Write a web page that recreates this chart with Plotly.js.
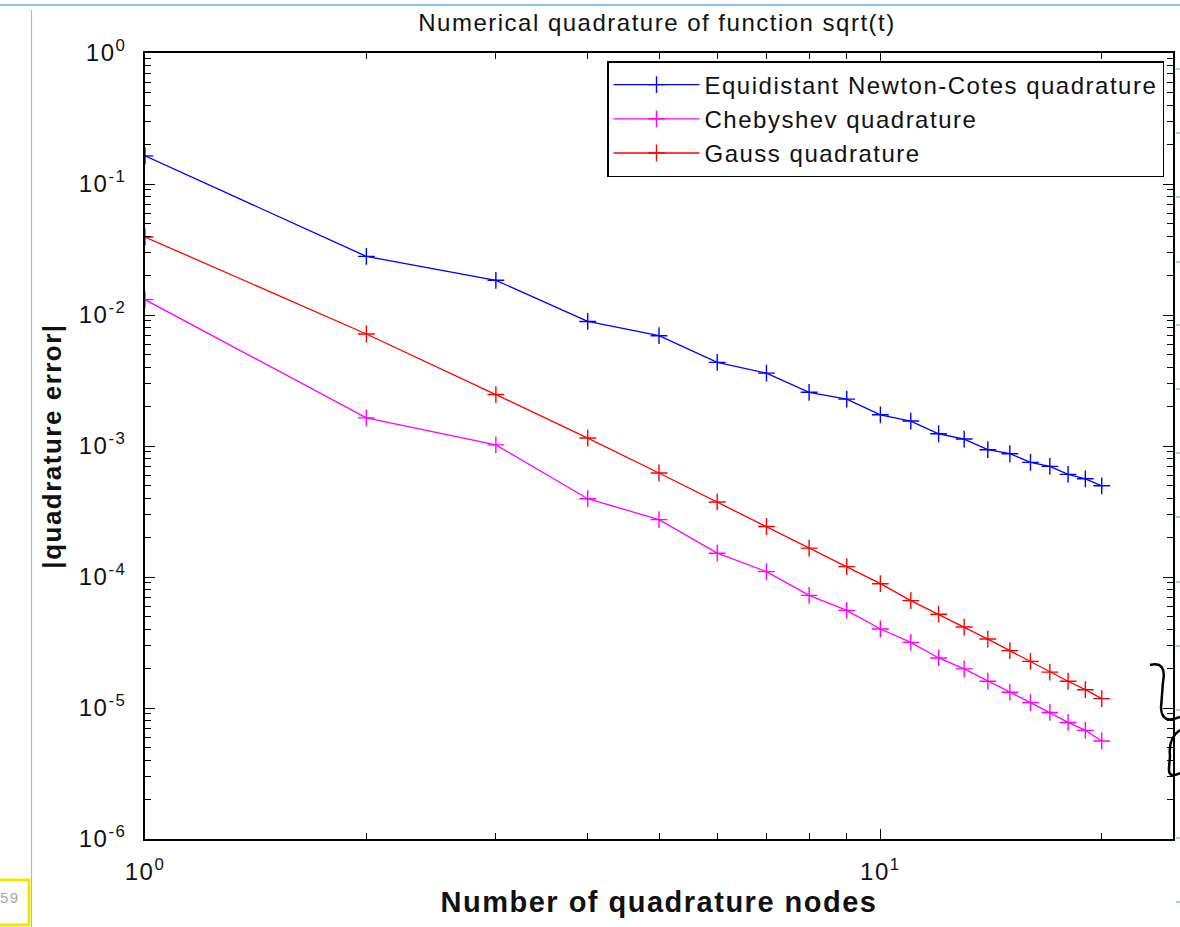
<!DOCTYPE html>
<html>
<head>
<meta charset="utf-8">
<script src="https://cdn.plot.ly/plotly-3.0.1.min.js"></script>
<style>
  html, body { margin: 0; padding: 0; background: #ffffff; }
  #chart { width: 1180px; height: 927px; }
  svg text { letter-spacing: 1.5px; }
</style>
</head>
<body>
<div id="chart"></div>
<script>
// ---- data ----
const nodes = [1,2,3,4,5,6,7,8,9,10,11,12,13,14,15,16,17,18,19,20];
const newtonCotesErr = [0.164, 0.028, 0.0184, 0.00893, 0.00695, 0.00435, 0.0036, 0.00257, 0.00228, 0.00173,
                        0.00155, 0.00124, 0.00113, 0.000937, 0.000873, 0.00075, 0.000699, 0.000607, 0.000562, 0.000497];
const chebyshevErr   = [0.0131, 0.00164, 0.00102, 0.000396, 0.000274, 0.000152, 0.00011, 7.24e-5, 5.56e-5, 4.01e-5,
                        3.17e-5, 2.41e-5, 1.99e-5, 1.60e-5, 1.32e-5, 1.10e-5, 9.25e-6, 7.76e-6, 6.75e-6, 5.60e-6];
const gaussErr       = [0.0394, 0.00716, 0.00247, 0.00115, 0.000622, 0.000374, 0.000243, 0.000166, 0.00012, 8.89e-5,
                        6.6e-5, 5.2e-5, 4.15e-5, 3.36e-5, 2.74e-5, 2.27e-5, 1.88e-5, 1.60e-5, 1.38e-5, 1.18e-5];
const seriesNames = ["Equidistant Newton-Cotes quadrature", "Chebyshev quadrature", "Gauss quadrature"];
const seriesColors = ["#0000ff", "#ff00ff", "#ff0000"];
const xTickVals = [1, 10];
const xTickText = ["10<sup>0</sup>", "10<sup>1</sup>"];
const yTickVals = [1e-6, 1e-5, 1e-4, 1e-3, 1e-2, 1e-1, 1];
const yTickText = ["10<sup>-6</sup>", "10<sup>-5</sup>", "10<sup>-4</sup>", "10<sup>-3</sup>",
                   "10<sup>-2</sup>", "10<sup>-1</sup>", "10<sup>0</sup>"];

// minor tick positions (2..9 within each decade)
const xMinor = [], yMinor = [];
for (let k = 2; k <= 9; k++) { xMinor.push(k); }
xMinor.push(20);
for (let e = -6; e <= -1; e++) { for (let k = 2; k <= 9; k++) { yMinor.push(k * Math.pow(10, e)); } }

// ---- layout geometry (pixels) ----
const W = 1180, H = 927;
const L = 145, R = 1173, T = 53, B = 839;
const px = x => (x - L) / (R - L);
const py = y => (B - y) / (B - T);
const FONT = 'Liberation Sans, Arial, Helvetica, sans-serif';

function mk(i, ys) {
  return {
    x: nodes, y: ys, name: seriesNames[i], type: 'scatter', mode: 'lines+markers',
    line: {color: seriesColors[i], width: 1.3},
    marker: {symbol: 'cross-thin', size: 12, color: seriesColors[i], line: {color: seriesColors[i], width: 1.4}}
  };
}
const traces = [mk(0, newtonCotesErr), mk(1, chebyshevErr), mk(2, gaussErr)];

// decorative screenshot elements
const shapes = [];
shapes.push({type: 'line', xref: 'paper', yref: 'paper', x0: px(0), x1: px(W), y0: py(5), y1: py(5),
             line: {color: '#6aaae8', width: 1.5}});
shapes.push({type: 'line', xref: 'paper', yref: 'paper', x0: px(31.5), x1: px(31.5), y0: py(10), y1: py(H),
             line: {color: '#b8b8b8', width: 1.2}});
shapes.push({type: 'rect', xref: 'paper', yref: 'paper', x0: px(-3), x1: px(29), y0: py(880), y1: py(925),
             line: {color: '#f2e600', width: 3}, fillcolor: 'rgba(0,0,0,0)'});
const rulerY = [69, 133, 197, 262, 325, 389, 453, 517, 582, 646, 710, 774, 838, 902];
rulerY.forEach(y => shapes.push({type: 'line', xref: 'paper', yref: 'paper', x0: px(1176), x1: px(1180),
             y0: py(y), y1: py(y), line: {color: '#4a90e2', width: 1}}));
// handwritten brace
const bracePix = [['M',1150,665],['Q',1167,661],[null,1163,682],['L',1161,708],['Q',1162,725],[null,1180,717],
                  ['M',1180,730],['Q',1168,738],[null,1170,756],['L',1169,768],['Q',1168,779],[null,1180,773]];
let bp = '';
bracePix.forEach(p => { bp += (p[0] ? ' ' + p[0] : ' ') + ' ' + px(p[1]).toFixed(5) + ',' + py(p[2]).toFixed(5); });
shapes.push({type: 'path', xref: 'paper', yref: 'paper', path: bp.trim(), line: {color: '#000000', width: 2.5}});

const axisCommon = {
  type: 'log', showgrid: false, zeroline: false, showline: true, linecolor: '#000000', linewidth: 1.6,
  mirror: 'allticks', ticks: 'inside', ticklen: 10, tickwidth: 1.2, tickcolor: '#000000',
  tickmode: 'array',
  tickfont: {family: FONT, size: 24, color: '#111111'}
};

const layout = {
  width: W, height: H,
  paper_bgcolor: '#ffffff', plot_bgcolor: '#ffffff',
  margin: {l: L, r: W - R, t: T, b: H - B, autoexpand: false},
  showlegend: true,
  title: {text: 'Numerical quadrature of function sqrt(t)', x: 657 / W, xanchor: 'center',
          y: 1 - 23 / H, yanchor: 'middle', yref: 'container',
          font: {family: FONT, size: 24, color: '#111111'}},
  xaxis: Object.assign({}, axisCommon, {
    range: [0, Math.log10(25)],
    tickvals: xTickVals, ticktext: xTickText, ticklabelstandoff: 10,
    minor: {tickmode: 'array', tickvals: xMinor, ticks: 'inside', ticklen: 6, tickwidth: 1, tickcolor: '#000000', showgrid: false},
    title: {text: 'Number of quadrature nodes', standoff: 8,
            font: {family: FONT, size: 29, weight: 'bold', color: '#111111'}}
  }),
  yaxis: Object.assign({}, axisCommon, {
    range: [-6, 0],
    tickvals: yTickVals, ticktext: yTickText, ticklabelstandoff: 12,
    minor: {tickmode: 'array', tickvals: yMinor, ticks: 'inside', ticklen: 6, tickwidth: 1, tickcolor: '#000000', showgrid: false},
    title: {text: '|quadrature error|', standoff: 10,
            font: {family: FONT, size: 26, weight: 'bold', color: '#111111'}}
  }),
  legend: {x: px(1164), xanchor: 'right', y: py(61), yanchor: 'top',
           bgcolor: '#ffffff', bordercolor: '#000000', borderwidth: 1.5,
           font: {family: FONT, size: 24, color: '#111111'},
           itemwidth: 86, tracegroupgap: 0},
  shapes: shapes,
  annotations: [{xref: 'paper', yref: 'paper', x: px(22), y: py(898), xanchor: 'right', yanchor: 'middle',
                 text: '59', showarrow: false, font: {family: FONT, size: 15, color: '#a8a8a8'}}]
};

Plotly.newPlot('chart', traces, layout, {displayModeBar: false, responsive: false});
</script>
</body>
</html>
